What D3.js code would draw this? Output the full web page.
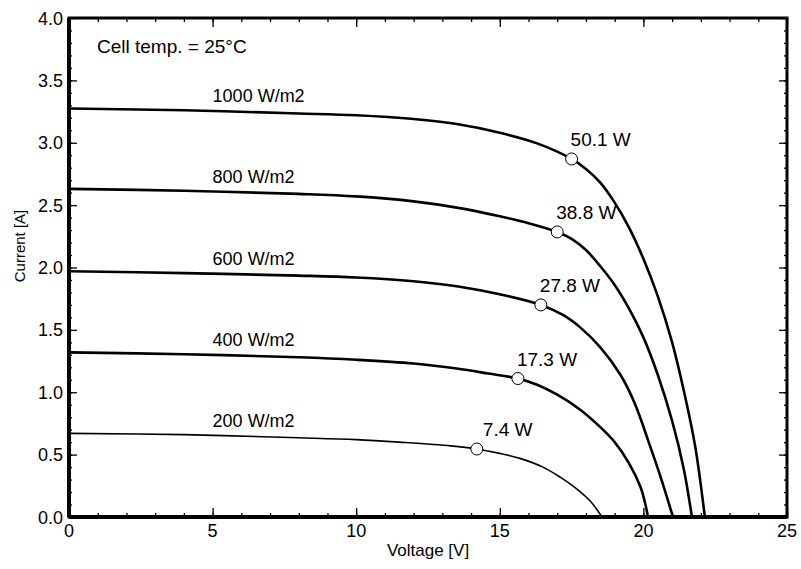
<!DOCTYPE html>
<meta charset="utf-8">
<html>
<head>
<script src="https://cdn.jsdelivr.net/npm/d3@7"></script>
<style>
    body { margin: 0; background: #fff; }
    text { font-family: "Liberation Sans", Arial, sans-serif; fill: #000; }
    .curve { fill: none; stroke: #000; stroke-linejoin: round; stroke-linecap: round; }
</style>
</head>
<body>
<div id="chart"></div>
<script>
    // irradiance levels and their I-V curves: [voltage V, current A]
    var levels = ["1000 W/m2", "800 W/m2", "600 W/m2", "400 W/m2", "200 W/m2"];

    var curve1000 = [[0,3.275],[4,3.26],[8,3.235],[10,3.22],[12,3.19],[13.5,3.15],[15,3.08],[16.3,2.995],[17.5,2.87],
                     [18,2.79],[18.5,2.68],[19,2.52],[19.5,2.32],[20,2.07],[20.5,1.77],[21,1.40],[21.4,1.02],
                     [21.8,0.57],[22.14,0]];
    var curve800  = [[0,2.63],[4,2.615],[8,2.59],[10,2.57],[12,2.53],[13.5,2.48],[15,2.41],[16,2.355],[17,2.285],
                     [17.5,2.23],[18,2.14],[18.5,2.01],[19,1.86],[19.5,1.67],[20,1.44],[20.5,1.14],[21,0.77],
                     [21.4,0.39],[21.69,0]];
    var curve600  = [[0,1.97],[4,1.955],[8,1.935],[10,1.92],[12,1.89],[13.5,1.85],[15,1.785],[16.43,1.70],
                     [17.2,1.62],[17.8,1.52],[18.5,1.36],[19.2,1.14],[19.7,0.91],[20.2,0.59],[20.6,0.32],[21.03,0]];
    var curve400  = [[0,1.32],[4,1.305],[8,1.28],[10,1.26],[12,1.23],[13.5,1.19],[14.6,1.15],[15.63,1.11],
                     [16.3,1.06],[17,0.98],[17.8,0.86],[18.5,0.72],[19,0.60],[19.5,0.43],[19.9,0.24],[20.05,0.12],[20.16,0]];
    var curve200  = [[0,0.67],[4,0.66],[8,0.635],[10,0.62],[11.5,0.60],[13.3,0.57],[14.2,0.545],[15,0.51],
                     [15.7,0.47],[16.5,0.40],[17.1,0.32],[17.6,0.24],[18.14,0.13],[18.56,0]];
    var curves = [curve1000, curve800, curve600, curve400, curve200];

    // maximum power points
    var mppV = [17.5, 17.0, 16.43, 15.63, 14.2];
    var mppI = [2.87, 2.285, 1.70, 1.11, 0.545];
    var mppLabels = ["50.1 W", "38.8 W", "27.8 W", "17.3 W", "7.4 W"];

    var xTicks = [0, 5, 10, 15, 20, 25];
    var yTicks = [0, 0.5, 1.0, 1.5, 2.0, 2.5, 3.0, 3.5, 4.0];

    var width = 801, height = 569;
    var margin = {top: 18, right: 14, bottom: 52, left: 69};
    var w = width - margin.left - margin.right,
        h = height - margin.top - margin.bottom;

    var svg = d3.select("#chart").append("svg")
        .attr("width", width)
        .attr("height", height);

    var g = svg.append("g")
        .attr("transform", "translate(" + margin.left + "," + margin.top + ")");

    var x = d3.scaleLinear().domain([0, 25]).range([0, w]);
    var y = d3.scaleLinear().domain([0, 4]).range([h, 0]);

    // ticks point inward on all four sides
    var xMinor = d3.range(0, 25.01, 1), yMinor = d3.range(0, 4.001, 0.1);
    function tickAxis(axis, ticks, size) {
        return axis.tickValues(ticks).tickSize(size).tickFormat("");
    }
    g.append("g").attr("transform", "translate(0," + h + ")").call(tickAxis(d3.axisTop(x), xMinor, 4));
    g.append("g").call(tickAxis(d3.axisBottom(x), xMinor, 4));
    g.append("g").call(tickAxis(d3.axisRight(y), yMinor, 3));
    g.append("g").attr("transform", "translate(" + w + ",0)").call(tickAxis(d3.axisLeft(y), yMinor, 3));
    g.append("g").attr("transform", "translate(0," + h + ")").call(tickAxis(d3.axisTop(x), xTicks, 9));
    g.append("g").call(tickAxis(d3.axisBottom(x), xTicks, 9));
    g.append("g").call(tickAxis(d3.axisRight(y), yTicks, 8));
    g.append("g").attr("transform", "translate(" + w + ",0)").call(tickAxis(d3.axisLeft(y), yTicks, 8));
    g.selectAll(".domain").remove();
    g.selectAll(".tick line").attr("stroke", "#000").attr("stroke-width", 1.3);

    // tick labels
    g.selectAll(".xlab").data(xTicks).enter().append("text")
        .attr("x", function(d) { return x(d); })
        .attr("y", h + 20)
        .attr("text-anchor", "middle")
        .attr("font-size", "18px")
        .text(function(d) { return d; });
    g.selectAll(".ylab").data(yTicks).enter().append("text")
        .attr("x", -6)
        .attr("y", function(d) { return y(d) + 6.5; })
        .attr("text-anchor", "end")
        .attr("font-size", "18px")
        .text(function(d) { return d.toFixed(1); });

    // axis titles
    g.append("text")
        .attr("x", w / 2)
        .attr("y", h + 39)
        .attr("text-anchor", "middle")
        .attr("font-size", "17px")
        .text("Voltage [V]");
    g.append("text")
        .attr("transform", "translate(-44,228) rotate(-90)")
        .attr("text-anchor", "middle")
        .attr("font-size", "15px")
        .text("Current [A]");

    // curves
    var line = d3.line()
        .x(function(d) { return x(d[0]); })
        .y(function(d) { return y(d[1]); })
        .curve(d3.curveCatmullRom.alpha(0.5));

    g.selectAll(".curve").data(curves).enter().append("path")
        .attr("class", "curve")
        .attr("stroke-width", function(d, i) { return i == 4 ? 1.6 : 2.6; })
        .attr("d", line);

    // irradiance labels sit above each curve start
    g.selectAll(".lvl").data(levels).enter().append("text")
        .attr("x", x(5))
        .attr("y", function(d, i) { return y(curves[i][0][1]) - 6; })
        .attr("font-size", "18px")
        .text(function(d) { return d; });

    // MPP markers
    g.selectAll(".mpp").data(mppV).enter().append("circle")
        .attr("cx", function(d) { return x(d); })
        .attr("cy", function(d, i) { return y(mppI[i]); })
        .attr("r", 6)
        .attr("fill", "#fff")
        .attr("stroke", "#000")
        .attr("stroke-width", 1);
    g.selectAll(".mpplab").data(mppLabels).enter().append("text")
        .attr("x", function(d, i) { return x(mppV[i]) + (i == 4 ? 6 : -1); })
        .attr("y", function(d, i) { return y(mppI[i]) - 13; })
        .attr("font-size", "19px")
        .text(function(d) { return d; });

    g.append("text")
        .attr("x", 28)
        .attr("y", 35)
        .attr("font-size", "19px")
        .text("Cell temp. = 25\u00b0C");

    // frame
    g.append("rect")
        .attr("width", w)
        .attr("height", h)
        .attr("fill", "none")
        .attr("stroke", "#000")
        .attr("stroke-width", 3);
    g.append("line").attr("x1", 0).attr("x2", 0).attr("y1", 0).attr("y2", h)
        .attr("stroke", "#000").attr("stroke-width", 4);
    g.append("line").attr("x1", 0).attr("x2", w).attr("y1", h).attr("y2", h)
        .attr("stroke", "#000").attr("stroke-width", 4);
</script>
</body>
</html>
